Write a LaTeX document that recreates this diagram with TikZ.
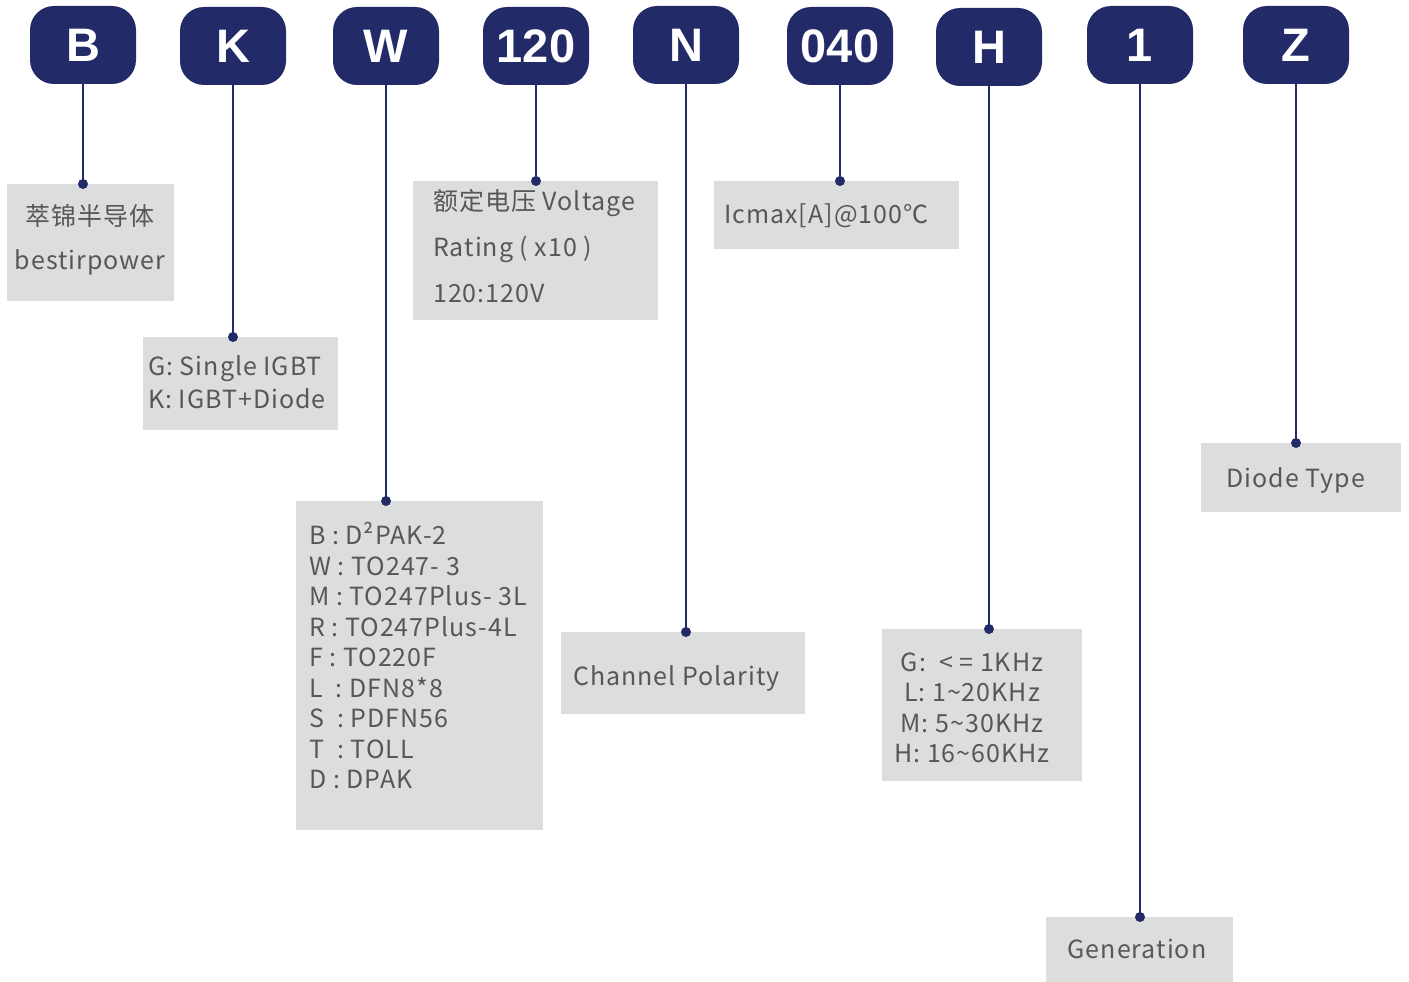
\documentclass[tikz,border=0pt]{standalone}
\usepackage{fontspec}
\setmainfont[LetterSpace=4]{Noto Sans CJK SC}
\newfontfamily\badgefont{Liberation Sans}
\usetikzlibrary{positioning}
\definecolor{CodeNavy}{HTML}{222A68}
\definecolor{CodeGray}{HTML}{DCDEDE}
\definecolor{CodeText}{HTML}{575757}
\tikzset{
  badge/.style={fill=CodeNavy,rounded corners=24pt,minimum width=106pt,minimum height=78pt,inner sep=0pt,text=white,font=\badgefont\bfseries\fontsize{47}{47}\selectfont},
  infobox/.style={fill=CodeGray,inner sep=0pt,anchor=north west},
  infotext/.style={text=CodeText,inner sep=0pt,font=\fontsize{25}{30.5}\selectfont},
  leadline/.style={draw=CodeNavy,line width=2pt},
  leaddot/.style={fill=CodeNavy}
}

\begin{document}
\begin{tikzpicture}[x=1pt,y=-1pt]
\useasboundingbox (0,0) rectangle (1409,982);
% code letters
\node[badge] (bB) at (83,45) {B};
\node[badge] (bK) at (233,46) {K};
\node[badge] (bW) at (386,46) {W};
\node[badge] (b120) at (536,46) {120};
\node[badge] (bN) at (686,45) {N};
\node[badge] (b040) at (840,46) {040};
\node[badge] (bH) at (989,47) {H};
\node[badge] (b1) at (1140,45) {1};
\node[badge] (bZ) at (1296,45) {Z};
% grey boxes
\node[infobox,minimum width=167pt,minimum height=117pt] (xB) at (7,184) {};
\node[infobox,minimum width=195pt,minimum height=93pt] (xK) at (143,337) {};
\node[infobox,minimum width=247pt,minimum height=329pt] (xW) at (296,501) {};
\node[infobox,minimum width=245pt,minimum height=139pt] (x120) at (413,181) {};
\node[infobox,minimum width=244pt,minimum height=82pt] (xN) at (561,632) {};
\node[infobox,minimum width=245pt,minimum height=68pt] (x040) at (714,181) {};
\node[infobox,minimum width=200pt,minimum height=152pt] (xH) at (882,629) {};
\node[infobox,minimum width=187pt,minimum height=65pt] (x1) at (1046,917) {};
\node[infobox,minimum width=200pt,minimum height=69pt] (xZ) at (1201,443) {};
% texts
\node[infotext,align=center,font=\fontsize{25}{44}\selectfont] (tB) at (90,240) {萃锦半导体\\bestirpower};
\node[infotext,align=left,anchor=west,font=\fontsize{25}{33}\selectfont] (tK) at (148,382) {G: Single IGBT\\K: IGBT+Diode};
\node[infotext,align=left,anchor=west] (tW) at (309,656) {B : D²PAK-2\\W : TO247- 3\\M : TO247Plus- 3L\\R : TO247Plus-4L\\F : TO220F\\L~~: DFN8*8\\S~~: PDFN56\\T~~: TOLL\\D : DPAK};
\node[infotext,align=left,anchor=west,font=\fontsize{25}{46}\selectfont] (t120) at (433,246) {额定电压 Voltage\\Rating ( x10 )\\120:120V};
\node[infotext,anchor=west] (tN) at (573,678) {Channel Polarity};
\node[infotext,anchor=west] (t040) at (724,216) {Icmax[A]@100℃};
\node[infotext,align=center] (tH) at (972,708) {G:~~< = 1KHz\\L: 1\textasciitilde20KHz\\M: 5\textasciitilde30KHz\\H: 16\textasciitilde60KHz};
\node[infotext] (t1) at (1137,949) {Generation};
\node[infotext] (tZ) at (1296,480) {Diode Type};
% lead lines
\foreach \c/\x in {B/B,K/K,W/W,120/120,N/N,040/040,H/H,1/1,Z/Z}{
  \draw[leadline] (b\c.south) -- (b\c.south |- x\x.north);
  \fill[leaddot] (b\c.south |- x\x.north) circle (5pt);
}
\end{tikzpicture}
\end{document}
